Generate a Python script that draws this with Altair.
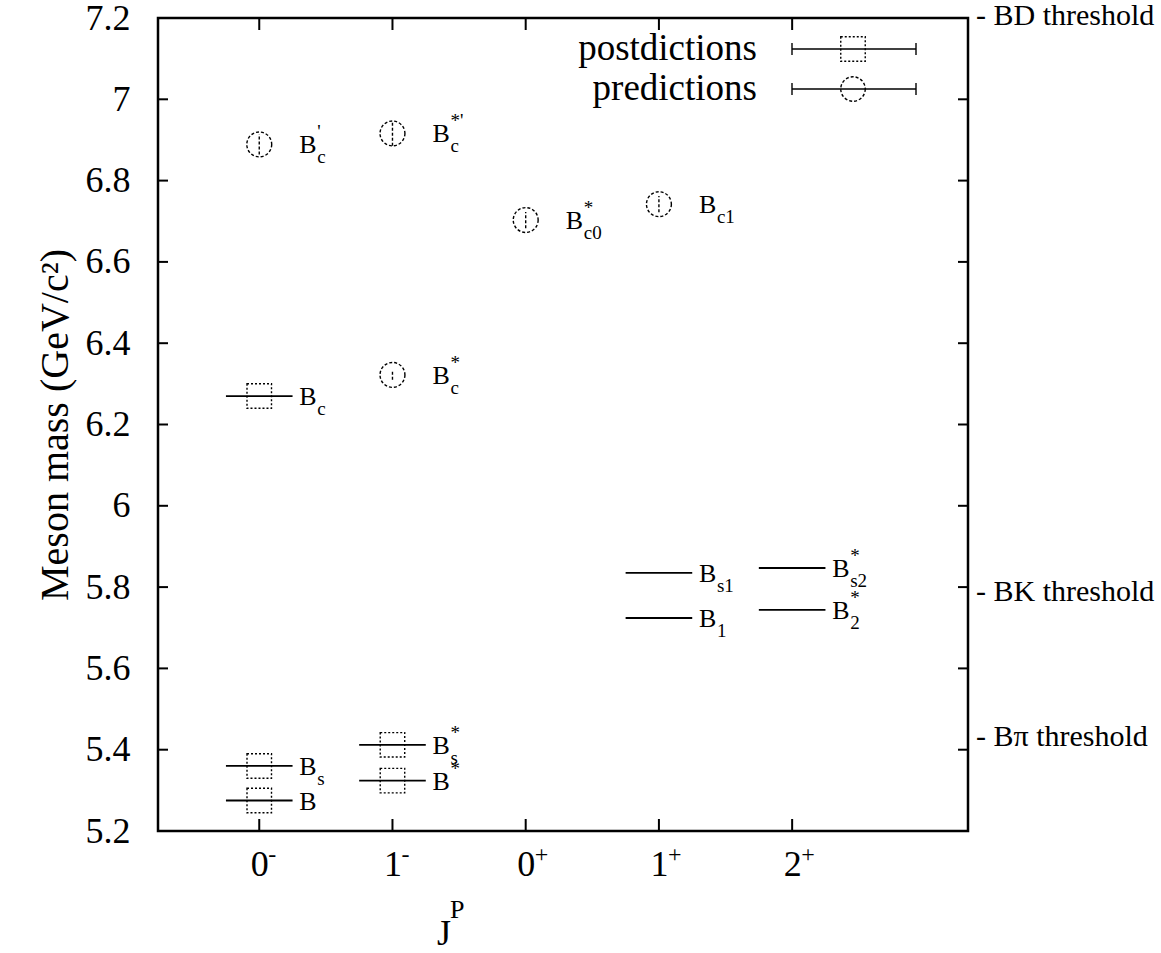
import altair as alt
import pandas as pd

FONT = "Liberation Serif, Times New Roman, serif"
W, H = 810, 813

# J^P slots along the x axis
jp_pos = [1, 2, 3, 4, 5]
jp_digit = ["0", "1", "0", "1", "2"]
jp_parity = ["-", "-", "+", "+", "+"]

# postdictions: known mesons, drawn as a dotted box with a horizontal bar
post_x = [1, 1, 1, 2, 2]
post_m = [5.275, 5.360, 6.270, 5.324, 5.412]
post_half = [0.25, 0.25, 0.25, 0.25, 0.25]

# predictions: dashed circle with a vertical error bar
pred_x = [1, 2, 3, 4, 2]
pred_m = [6.889, 6.916, 6.703, 6.742, 6.322]
pred_err = [0.025, 0.030, 0.020, 0.020, 0.012]

# P-wave levels shown as bare horizontal bars
lvl_x = [4, 4, 5, 5]
lvl_m = [5.724, 5.835, 5.744, 5.847]
lvl_half = [0.25, 0.25, 0.25, 0.25]

# state labels: B with subscript / superscript
lab_x = [1, 1, 1, 2, 2, 1, 2, 3, 4, 2, 4, 4, 5, 5]
lab_m = [5.275, 5.360, 6.270, 5.324, 5.412, 6.889, 6.916, 6.703, 6.742, 6.322,
         5.724, 5.835, 5.744, 5.847]
lab_sub = ["", "s", "c", "", "s", "c", "c", "c0", "c1", "c", "1", "s1", "2", "s2"]
lab_sup = ["", "", "", "*", "*", "'", "*'", "*", "", "*", "", "", "*", "*"]

# decay thresholds written beside the right frame
thr_text = ["- BD threshold", "- BK threshold", "- B\u03c0 threshold"]
thr_m = [7.205, 5.788, 5.431]

y_ticks = [5.2, 5.4, 5.6, 5.8, 6.0, 6.2, 6.4, 6.6, 6.8, 7.0, 7.2]

xs = alt.Scale(domain=[0.24, 6.32], nice=False, zero=False)
ys = alt.Scale(domain=[5.2, 7.2], nice=False, zero=False)

label_expr = "{'1':'0','2':'1','3':'0','4':'1','5':'2'}[datum.value]"
x_axis = alt.Axis(
    values=jp_pos, labelExpr=label_expr, title=None, ticks=False,
    domain=False, grid=False, labelFont=FONT, labelFontSize=36,
    labelColor="black", labelPadding=16)
y_axis = alt.Axis(
    values=y_ticks, format="~g", title="Meson mass (GeV/c\u00b2)", ticks=False,
    domain=False, grid=False, labelFont=FONT, labelFontSize=36,
    labelColor="black", labelPadding=28, titleFont=FONT, titleFontSize=40,
    titleFontWeight="normal", titleColor="black", titlePadding=10)


def X(field):
    return alt.X(field, scale=xs, axis=x_axis)


def Y(field):
    return alt.Y(field, scale=ys, axis=y_axis)


post = pd.DataFrame({"x": post_x, "m": post_m, "h": post_half})
post["x0"] = post["x"] - post["h"]
post["x1"] = post["x"] + post["h"]
pred = pd.DataFrame({"x": pred_x, "m": pred_m, "e": pred_err})
pred["lo"] = pred["m"] - pred["e"]
pred["hi"] = pred["m"] + pred["e"]
lvl = pd.DataFrame({"x": lvl_x, "m": lvl_m, "h": lvl_half})
lvl["x0"] = lvl["x"] - lvl["h"]
lvl["x1"] = lvl["x"] + lvl["h"]
lab = pd.DataFrame({"x": lab_x, "m": lab_m, "sub": lab_sub, "sup": lab_sup})
thr = pd.DataFrame({"t": thr_text, "m": thr_m})
jp = pd.DataFrame({"x": jp_pos, "d": jp_digit, "p": jp_parity})
yt = pd.DataFrame({"v": y_ticks})
one = pd.DataFrame({"k": [0]})

post_bars = alt.Chart(post).mark_rule(color="black", strokeWidth=1.8).encode(
    x=X("x0:Q"), x2="x1:Q", y=Y("m:Q"))

post_box = alt.Chart(post).mark_point(
    shape="square", size=600, filled=False, color="black",
    strokeWidth=1.4, strokeDash=[2, 2], opacity=1).encode(
    x=X("x:Q"), y=Y("m:Q"))

pred_circ = alt.Chart(pred).mark_point(
    shape="circle", size=620, filled=False, color="black",
    strokeWidth=1.4, strokeDash=[3, 2], opacity=1).encode(
    x=X("x:Q"), y=Y("m:Q"))

pred_err_bar = alt.Chart(pred).mark_rule(
    color="black", strokeWidth=1.4, strokeDash=[3, 2]).encode(
    x=X("x:Q"), y=Y("lo:Q"), y2="hi:Q")

lvl_bars = alt.Chart(lvl).mark_rule(color="black", strokeWidth=1.8).encode(
    x=X("x0:Q"), x2="x1:Q", y=Y("m:Q"))

lab_b = alt.Chart(lab).mark_text(
    text="B", font=FONT, fontSize=26, align="left", baseline="alphabetic",
    dx=40, dy=9, color="black").encode(x=X("x:Q"), y=Y("m:Q"))

lab_sub_t = alt.Chart(lab).mark_text(
    font=FONT, fontSize=19, align="left", baseline="alphabetic",
    dx=58, dy=19, color="black").encode(x=X("x:Q"), y=Y("m:Q"), text="sub:N")

lab_sup_t = alt.Chart(lab).mark_text(
    font=FONT, fontSize=19, align="left", baseline="alphabetic",
    dx=58, dy=-6, color="black").encode(x=X("x:Q"), y=Y("m:Q"), text="sup:N")

thr_t = alt.Chart(thr).mark_text(
    font=FONT, fontSize=30, align="left", baseline="middle", dx=8,
    color="black", clip=False).encode(
    x=alt.value(W), y=Y("m:Q"), text="t:N")

# frame ticks pointing inward
tick_l = alt.Chart(yt).mark_rule(color="black", strokeWidth=2).encode(
    y=Y("v:Q"), x=alt.value(0), x2=alt.value(10))
tick_r = alt.Chart(yt).mark_rule(color="black", strokeWidth=2).encode(
    y=Y("v:Q"), x=alt.value(W - 10), x2=alt.value(W))
tick_b = alt.Chart(jp).mark_rule(color="black", strokeWidth=2).encode(
    x=X("x:Q"), y=alt.value(H), y2=alt.value(H - 12))
tick_t = alt.Chart(jp).mark_rule(color="black", strokeWidth=2).encode(
    x=X("x:Q"), y=alt.value(0), y2=alt.value(12))

# parity superscripts on the J^P tick labels
parity_t = alt.Chart(jp).mark_text(
    font=FONT, fontSize=24, align="left", baseline="top", dx=9,
    color="black").encode(x=X("x:Q"), y=alt.value(H + 12), text="p:N")

# x axis title J^P
j_t = alt.Chart(one).mark_text(
    text="J", font=FONT, fontSize=36, align="left", baseline="alphabetic",
    color="black").encode(x=alt.value(279), y=alt.value(927))
p_t = alt.Chart(one).mark_text(
    text="P", font=FONT, fontSize=26, align="left", baseline="alphabetic",
    color="black").encode(x=alt.value(292), y=alt.value(900))

# key in the upper right corner
LX0, LX1, LXS, LXT = 634, 758, 695, 599
key_layers = []
for ky, name, shape, dash in [(31, "postdictions", "square", [2, 2]),
                              (71, "predictions", "circle", [3, 2])]:
    key_layers += [
        alt.Chart(one).mark_rule(color="black", strokeWidth=1.6).encode(
            x=alt.value(LX0), x2=alt.value(LX1), y=alt.value(ky)),
        alt.Chart(one).mark_rule(color="black", strokeWidth=1.4).encode(
            x=alt.value(LX0), y=alt.value(ky - 6), y2=alt.value(ky + 6)),
        alt.Chart(one).mark_rule(color="black", strokeWidth=1.4).encode(
            x=alt.value(LX1), y=alt.value(ky - 6), y2=alt.value(ky + 6)),
        alt.Chart(one).mark_point(shape=shape, size=600, filled=False,
                                  color="black", strokeWidth=1.4,
                                  strokeDash=dash, opacity=1).encode(
            x=alt.value(LXS), y=alt.value(ky)),
        alt.Chart(one).mark_text(text=name, font=FONT, fontSize=37,
                                 align="right", baseline="middle",
                                 color="black").encode(
            x=alt.value(LXT), y=alt.value(ky)),
    ]

chart = alt.layer(
    post_bars, lvl_bars, post_box, pred_circ, pred_err_bar,
    lab_b, lab_sub_t, lab_sup_t, thr_t,
    tick_l, tick_r, tick_b, tick_t, parity_t, j_t, p_t, *key_layers,
).properties(
    width=W, height=H,
    autosize=alt.AutoSizeParams(type="none"),
    padding={"left": 158, "top": 18, "right": 1161 - 158 - W, "bottom": 953 - 18 - H},
    background="white",
).configure_view(
    stroke="black", strokeWidth=2.5
).configure_axis(
    labelFont=FONT, titleFont=FONT, labelFontWeight="normal", titleFontWeight="normal"
).configure_text(font=FONT)

chart.save("out.html", embed_options={"renderer": "svg", "actions": False})
